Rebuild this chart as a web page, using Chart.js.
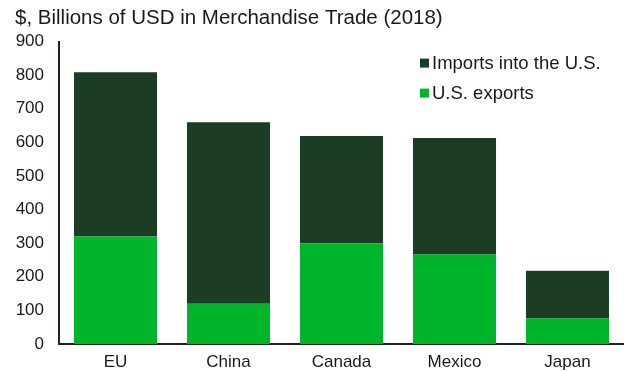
<!DOCTYPE html>
<html>
<head>
<meta charset="utf-8">
<script src="https://cdn.jsdelivr.net/npm/chart.js@4/dist/chart.umd.min.js"></script>
<style>
  html, body { margin: 0; padding: 0; background: #fff; }
  #wrap { width: 624px; height: 371px; position: relative; }
</style>
</head>
<body>
<div id="wrap"><canvas id="tradeChart"></canvas></div>
<script>
// 2018 merchandise trade with the top partners, billions of USD
const partners = ['EU', 'China', 'Canada', 'Mexico', 'Japan'];
const usExports = [320, 120, 300, 266, 76];
const usImports = [489, 540, 319, 347, 142];
const yMax = 900;
const yStep = 100;

const FONT = '"Liberation Sans", Arial, Helvetica, sans-serif';
const DARK = '#1b3d23';
const BRIGHT = '#00b52b';
const AXIS = '#1c2414';

// legend drawn inside the plot, top right, imports listed first
const cornerLegend = {
  id: 'cornerLegend',
  afterDraw(chart) {
    const { ctx, chartArea } = chart;
    const items = chart.data.datasets.slice().reverse();
    const x = chartArea.right - 204;
    let y = chartArea.top + 22;
    ctx.save();
    ctx.font = '18.5px ' + FONT;
    ctx.textBaseline = 'middle';
    ctx.textAlign = 'left';
    items.forEach(ds => {
      ctx.fillStyle = ds.backgroundColor;
      ctx.fillRect(x, y - 5, 9, 9);
      ctx.fillStyle = '#1a1a1a';
      ctx.fillText(ds.label, x + 12, y);
      y += 30;
    });
    ctx.restore();
  }
};

const ctx = document.getElementById('tradeChart').getContext('2d');
new Chart(ctx, {
  type: 'bar',
  data: {
    labels: partners,
    datasets: [
      { label: 'U.S. exports', data: usExports, backgroundColor: BRIGHT, borderWidth: 0 },
      { label: 'Imports into the U.S.', data: usImports, backgroundColor: DARK, borderWidth: 0 }
    ]
  },
  options: {
    responsive: true,
    maintainAspectRatio: false,
    animation: false,
    devicePixelRatio: 1,
    layout: { padding: { left: 15, right: 0, top: 0, bottom: 0 } },
    datasets: {
      bar: { categoryPercentage: 1, barPercentage: 0.735 }
    },
    plugins: {
      legend: { display: false },
      tooltip: { enabled: false },
      title: {
        display: true,
        text: '$, Billions of USD in Merchandise Trade (2018)',
        align: 'start',
        color: '#1a1a1a',
        font: { family: FONT, size: 20.5, weight: 'normal' },
        padding: { top: 6, bottom: 11 }
      }
    },
    scales: {
      x: {
        stacked: true,
        grid: { display: false, drawTicks: false },
        border: { display: true, color: AXIS, width: 2 },
        ticks: {
          color: '#1a1a1a',
          padding: 8,
          font: { family: FONT, size: 17 }
        },
        afterFit(scale) { scale.height = 27; }
      },
      y: {
        stacked: true,
        min: 0,
        max: yMax,
        grid: { display: false, drawTicks: false },
        border: { display: true, color: AXIS, width: 2 },
        ticks: {
          stepSize: yStep,
          color: '#1a1a1a',
          padding: 15,
          font: { family: FONT, size: 17 }
        },
        afterFit(scale) { scale.width = 44; }
      }
    }
  },
  plugins: [cornerLegend]
});
</script>
</body>
</html>
